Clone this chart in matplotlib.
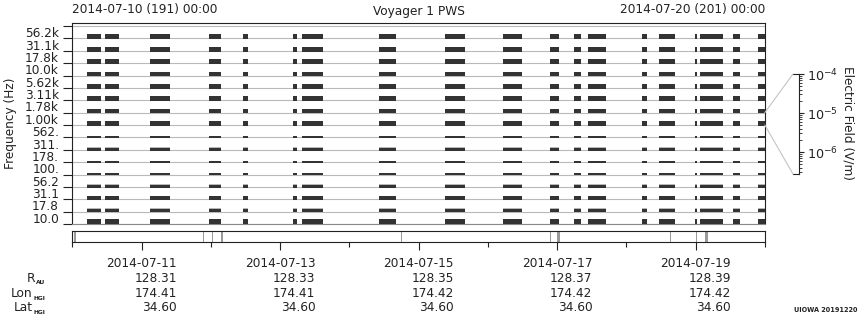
import matplotlib
matplotlib.use('Agg')
import matplotlib.pyplot as plt
import matplotlib.transforms as mtransforms
from matplotlib.patches import ConnectionPatch

plt.rcParams['font.family'] = ['DejaVu Sans']
FS = 8.7

# ---------------- data ----------------
freq_labels = ['10.0', '17.8', '31.1', '56.2', '100.', '178.', '311.', '562.',
               '1.00k', '1.78k', '3.11k', '5.62k', '10.0k', '17.8k', '31.1k', '56.2k']
# relative intensity level of the dark band in each channel (bottom -> top)
band_level = [0.43, 0.27, 0.30, 0.24, 0.22, 0.16, 0.24, 0.16,
              0.38, 0.38, 0.38, 0.38, 0.38, 0.38, 0.38, 0.38]
# faint (light grey) noise above the band
noise_level = [0.03, 0.07, 0.02, 0.08, 0.0, 0.02, 0.05, 0.0,
               0.0, 0.0, 0.0, 0.0, 0.0, 0.0, 0.0, 0.0]

# data segments, in days since 2014-07-10 00:00
seg_start_day = [0.212, 0.472, 1.121, 1.973, 2.463, 3.185, 3.315, 4.426, 5.378, 6.215,
                 6.893, 7.240, 7.442, 8.221, 8.466, 8.999, 9.058, 9.534, 9.908]
seg_end_day = [0.414, 0.674, 1.410, 2.146, 2.535, 3.242, 3.618, 4.671, 5.671, 6.489,
               7.023, 7.341, 7.701, 8.293, 8.697, 9.014, 9.390, 9.649, 10.0]

# gap markers in the bottom strip (days) and their weight
gap_day = [0.040, 1.882, 2.020, 2.156, 4.753, 6.893, 7.013, 8.635, 9.010, 9.144]
gap_weight = [2.0, 1.0, 1.0, 2.0, 1.0, 1.0, 3.0, 1.0, 1.0, 3.0]

date_tick_day = [1, 3, 5, 7, 9]
date_labels = ['2014-07-11', '2014-07-13', '2014-07-15', '2014-07-17', '2014-07-19']
r_au = [128.31, 128.33, 128.35, 128.37, 128.39]
lon_hgi = [174.41, 174.41, 174.42, 174.42, 174.42]
lat_hgi = [34.60, 34.60, 34.60, 34.60, 34.60]

cbar_min, cbar_max = 2.73e-7, 1e-4

# ---------------- layout helpers ----------------
W, H = 860, 320
def fx(px):
    return px / W
def fy(py):
    return 1 - py / H

fig = plt.figure(figsize=(W / 100, H / 100), dpi=100)

X0, X1 = 72.3, 764.8
DARK = '#222222'
GRID = '#b9b9b9'
BAR = '#333333'

# ---------------- main panel ----------------
ax = fig.add_axes([fx(X0), fy(224), (X1 - X0) / W, (224 - 23.3) / H])
ax.set_xlim(0, 10)
ax.set_ylim(0, 16.22)
ax.hlines(range(17), 0, 10, color=GRID, lw=0.8, zorder=1)

widths = [e - s for s, e in zip(seg_start_day, seg_end_day)]
xr = list(zip(seg_start_day, widths))
for k, (lvl, nz) in enumerate(zip(band_level, noise_level)):
    ax.broken_barh(xr, (k - 0.06, lvl), facecolors=BAR, edgecolor='none', zorder=3)
    if nz > 0:
        ax.broken_barh(xr, (k - 0.06 + lvl, nz), facecolors='#b8b8b8',
                       edgecolor='none', zorder=2)

ax.set_xticks([])
ax.set_yticks(range(17))
ax.set_yticklabels([])
ax.set_yticks([k + 0.5 for k in range(16)], minor=True)
ax.set_yticklabels(freq_labels, minor=True, fontsize=FS, color=DARK)
ax.tick_params(axis='y', which='major', length=6.6, width=0.8, color=DARK, direction='out')
ax.tick_params(axis='y', which='minor', length=0, pad=9.6)
for s in ['top', 'left', 'right']:
    ax.spines[s].set_color(DARK)
    ax.spines[s].set_linewidth(0.8)
ax.spines['bottom'].set_color('#888888')
ax.spines['bottom'].set_linewidth(0.8)
fig.text(fx(11), fy(123.5), 'Frequency (Hz)', rotation=90, ha='center', va='center',
         fontsize=FS, color=DARK)

# ---------------- gap strip ----------------
ax2 = fig.add_axes([fx(X0), fy(242.3), (X1 - X0) / W, 11.3 / H])
ax2.set_xlim(0, 10)
ax2.set_ylim(0, 1)
ax2.set_yticks([])
for d, w in zip(gap_day, gap_weight):
    ax2.axvline(d, color='#999999', lw=w * 0.72)
ax2.set_xticks(date_tick_day)
ax2.set_xticklabels([])
ax2.set_xticks([0, 2, 4, 6, 8, 10], minor=True)
ax2.tick_params(axis='x', which='major', length=5.6, width=0.8, color=DARK)
ax2.tick_params(axis='x', which='minor', length=3.8, width=0.8, color=DARK)
for s in ax2.spines.values():
    s.set_color(DARK)
    s.set_linewidth(0.8)

# ---------------- bottom ephemeris text ----------------
blend = mtransforms.blended_transform_factory(ax2.transData, fig.transFigure)
for d, lab, r, lo, la in zip(date_tick_day, date_labels, r_au, lon_hgi, lat_hgi):
    t = fig.text(d, fy(266.7), lab, transform=blend, ha='center', va='baseline',
                 fontsize=FS, color=DARK)
    for val, yb in zip([r, lo, la], [281.7, 296.7, 311.0]):
        ax2.annotate('%.2f' % val, xy=(1, fy(yb)), xycoords=(t, 'figure fraction'),
                     ha='right', va='baseline', fontsize=FS, color=DARK,
                     annotation_clip=False)

for main, sub, yb in [('R', 'AU', 281.7), ('Lon', 'HGI', 296.7), ('Lat', 'HGI', 311.0)]:
    st = fig.text(fx(45), fy(yb + 2.8), sub, ha='right', va='baseline',
                  fontsize=4.3, weight='bold', color=DARK)
    ax2.annotate(main, xy=(0, fy(yb)), xycoords=(st, 'figure fraction'),
                 xytext=(-0.6, 0), textcoords='offset pixels',
                 ha='right', va='baseline', fontsize=FS, color=DARK,
                 annotation_clip=False)

# ---------------- titles ----------------
fig.text(fx(X0), fy(13.3), '2014-07-10 (191) 00:00', ha='left', va='baseline',
         fontsize=FS, color=DARK)
fig.text(fx((X0 + X1) / 2), fy(15.0), 'Voyager 1 PWS', ha='center', va='baseline',
         fontsize=FS, color=DARK)
fig.text(fx(X1), fy(13.3), '2014-07-20 (201) 00:00', ha='right', va='baseline',
         fontsize=FS, color=DARK)

# ---------------- colour scale ----------------
cax = fig.add_axes([fx(793), fy(174), 6 / W, 100 / H])
cax.set_yscale('log')
cax.set_ylim(cbar_min, cbar_max)
cax.set_xticks([])
cax.yaxis.tick_right()
cax.spines['left'].set_visible(False)
for s in ['right', 'top', 'bottom']:
    cax.spines[s].set_color(DARK)
    cax.spines[s].set_linewidth(0.8)
cax.tick_params(axis='y', which='major', length=3.4, width=0.8, color=DARK,
                labelsize=FS + 0.5, labelcolor=DARK, pad=2)
cax.tick_params(axis='y', which='minor', length=1.8, width=0.6, color=DARK)
fig.text(fx(848), fy(123), 'Electric Field (V/m)', rotation=270, ha='center',
         va='center', fontsize=FS, color=DARK)

for ya, yb in [(9, 1), (8, 0)]:
    cp = ConnectionPatch(xyA=(10, ya), coordsA=ax.transData,
                         xyB=(0, yb), coordsB=cax.transAxes,
                         color='#c4c4c4', lw=0.8)
    fig.add_artist(cp)

fig.text(fx(858), fy(310), 'UIOWA 20191220', ha='right', va='center',
         fontsize=4.7, weight='bold', color=DARK)

fig.savefig('out.png', dpi=100)
